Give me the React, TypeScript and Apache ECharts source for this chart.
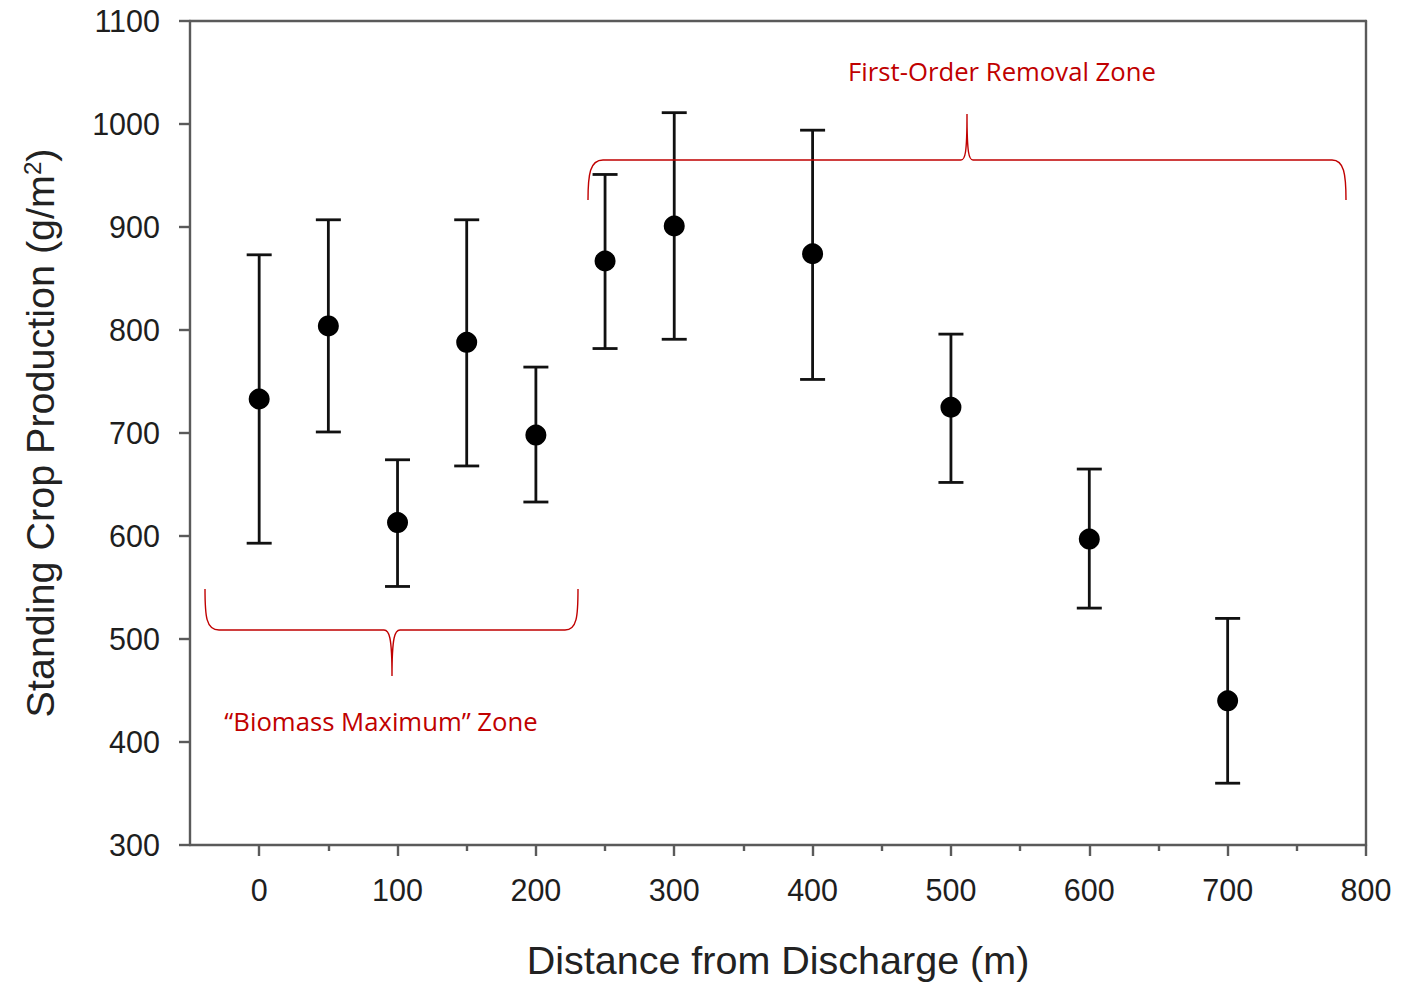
import React, { useEffect, useRef } from "react";
import * as echarts from "echarts";

const distances = [0, 50, 100, 150, 200, 250, 300, 400, 500, 600, 700];
const means = [733, 804, 613, 788, 698, 867, 901, 874, 725, 597, 440];
const uppers = [873, 907, 674, 907, 764, 951, 1011, 994, 796, 665, 520];
const lowers = [593, 701, 551, 668, 633, 782, 791, 752, 652, 530, 360];

const xMajorTicks = [0, 100, 200, 300, 400, 500, 600, 700, 800];
const xMinorTicks = [50, 150, 250, 350, 450, 550, 650, 750];

const xTitle = "Distance from Discharge (m)";
const yTitle = "Standing Crop Production (g/m{sup|2})";
const zoneTop = "First-Order Removal Zone";
const zoneBottom = "\u201CBiomass Maximum\u201D Zone";

const FONT = "'Liberation Sans', Arial, Helvetica, sans-serif";
const AXIS_COLOR = "#5a5a5a";
const RED = "#c00000";

const braceBottom =
  "M205,589 C205,616 206,630 219,630 L384,630 C389,630 392,636 392,676 C392,636 395,630 400,630 L565,630 C577,630 578,616 578,589";
const braceTop =
  "M588,200 C588,174 590,160 603,160 L961,160 C965,160 967,154 967,114 C967,154 969,160 973,160 L1332,160 C1344,160 1346,174 1346,200";

echarts.graphic.registerShape("braceBottom", echarts.graphic.extendPath(braceBottom, {}));
echarts.graphic.registerShape("braceTop", echarts.graphic.extendPath(braceTop, {}));

export default function App() {
  const ref = useRef<HTMLDivElement>(null);
  useEffect(() => {
    document.body.style.margin = "0";
    if (!ref.current) return;
    const chart = echarts.init(ref.current, null, { renderer: "svg" });
    const errData = distances.map((d, i) => [d, lowers[i], uppers[i]]);
    const ptData = distances.map((d, i) => [d, means[i]]);
    const lineStyle = { color: AXIS_COLOR, width: 2.4 };
    chart.setOption({
      animation: false,
      backgroundColor: "#fff",
      grid: { left: 190, right: 35, top: 21, bottom: 139, containLabel: false },
      xAxis: [
        {
          type: "value",
          min: -50,
          max: 800,
          position: "bottom",
          axisLine: { show: true, onZero: false, lineStyle },
          axisTick: { show: true, length: 11, customValues: xMajorTicks, lineStyle },
          axisLabel: {
            customValues: xMajorTicks,
            fontSize: 30.5,
            fontFamily: FONT,
            color: "#1e1e1e",
            margin: 29,
            formatter: (v: number) => String(v),
          },
          splitLine: { show: false },
          name: xTitle,
          nameLocation: "middle",
          nameGap: 95,
          nameTextStyle: { fontSize: 39.5, fontFamily: FONT, color: "#222" },
        },
        {
          type: "value",
          min: -50,
          max: 800,
          position: "bottom",
          axisLine: { show: false, onZero: false },
          axisTick: { show: true, length: 6, customValues: xMinorTicks, lineStyle },
          axisLabel: { show: false },
          splitLine: { show: false },
        },
        {
          type: "value",
          min: -50,
          max: 800,
          position: "top",
          axisLine: { show: true, onZero: false, lineStyle },
          axisTick: { show: false },
          axisLabel: { show: false },
          splitLine: { show: false },
        },
      ],
      yAxis: [
        {
          type: "value",
          min: 300,
          max: 1100,
          interval: 100,
          position: "left",
          axisLine: { show: true, onZero: false, lineStyle },
          axisTick: { show: true, length: 11, lineStyle },
          axisLabel: {
            fontSize: 30.5,
            fontFamily: FONT,
            color: "#1e1e1e",
            margin: 30,
            formatter: (v: number) => String(v),
          },
          splitLine: { show: false },
          name: yTitle,
          nameLocation: "middle",
          nameGap: 130,
          nameRotate: 90,
          nameTextStyle: {
            fontSize: 39.5,
            fontFamily: FONT,
            color: "#222",
            rich: {
              sup: { fontSize: 24, fontFamily: FONT, color: "#222", verticalAlign: "top", padding: [0, 0, 16, 0] },
            },
          },
        },
        {
          type: "value",
          min: 300,
          max: 1100,
          interval: 100,
          position: "right",
          axisLine: { show: true, onZero: false, lineStyle },
          axisTick: { show: false },
          axisLabel: { show: false },
          splitLine: { show: false },
        },
      ],
      series: [
        {
          type: "custom",
          xAxisIndex: 0,
          yAxisIndex: 0,
          data: errData,
          encode: { x: 0, y: [1, 2] },
          z: 2,
          renderItem: (params: any, api: any) => {
            const x = api.value(0);
            const lo = api.coord([x, api.value(1)]);
            const hi = api.coord([x, api.value(2)]);
            const hw = 12.5;
            const st = { stroke: "#111", lineWidth: 2.8 };
            return {
              type: "group",
              children: [
                { type: "line", shape: { x1: lo[0], y1: lo[1], x2: hi[0], y2: hi[1] }, style: st },
                { type: "line", shape: { x1: hi[0] - hw, y1: hi[1], x2: hi[0] + hw, y2: hi[1] }, style: st },
                { type: "line", shape: { x1: lo[0] - hw, y1: lo[1], x2: lo[0] + hw, y2: lo[1] }, style: st },
              ],
            };
          },
        },
        {
          type: "scatter",
          xAxisIndex: 0,
          yAxisIndex: 0,
          data: ptData,
          symbol: "circle",
          symbolSize: 21,
          itemStyle: { color: "#000", opacity: 1 },
          z: 3,
        },
      ],
      graphic: [
        { type: "braceBottom", x: 0, y: 0, style: { stroke: RED, fill: "none", lineWidth: 1.4 }, z: 10 },
        { type: "braceTop", x: 0, y: 0, style: { stroke: RED, fill: "none", lineWidth: 1.4 }, z: 10 },
        {
          type: "text",
          x: 1002,
          y: 71,
          z: 10,
          style: {
            text: zoneTop,
            fill: RED,
            fontSize: 25.7,
            fontFamily: "'Open Sans', sans-serif",
            textAlign: "center",
            textVerticalAlign: "middle",
          },
        },
        {
          type: "text",
          x: 381,
          y: 721,
          z: 10,
          style: {
            text: zoneBottom,
            fill: RED,
            fontSize: 25.7,
            fontFamily: "'Open Sans', sans-serif",
            textAlign: "center",
            textVerticalAlign: "middle",
          },
        },
      ],
    });
    return () => chart.dispose();
  }, []);
  return <div ref={ref} style={{ width: 1401, height: 985 }} />;
}
